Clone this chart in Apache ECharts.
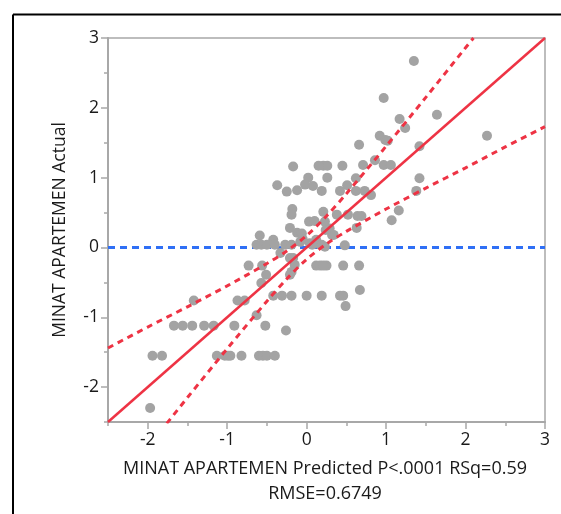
<!DOCTYPE html>
<html>
<head>
<meta charset="utf-8">
<script src="https://cdn.jsdelivr.net/npm/echarts@6/dist/echarts.min.js"></script>
<style>
html,body{margin:0;padding:0;background:#fff;}
#chart{width:561px;height:514px;}
</style>
</head>
<body>
<div id="chart"></div>
<script>
// Predicted (x) and Actual (y) values
var predictedX = [1.35,0.97,1.64,1.17,1.24,2.27,0.92,0.99,1.02,0.66,1.42,0.86,0.71,0.97,1.06,0.21,0.26,0.45,0.15,-0.17,
  0.26,0.62,1.42,0.02,0.51,-0.37,-0.02,0.08,0.19,0.42,0.62,0.73,0.81,1.38,-0.25,-0.12,0.21,0.38,0.52,0.64,
  0.69,1.16,1.07,0.63,-0.18,-0.19,0.03,0.10,0.23,-0.21,0.29,0.34,0.32,-0.12,-0.06,-0.59,-0.42,0.12,-0.08,0.04,
  0.24,0.23,-0.63,-0.57,-0.50,-0.40,-0.27,-0.19,0.17,0.19,0.48,-0.33,-0.21,-0.17,-0.15,-0.19,-0.21,0.12,0.17,0.25,
  0.21,0.46,0.66,-0.73,-0.56,-0.51,-0.57,-0.42,-0.31,-0.19,0.00,0.19,0.42,0.46,0.67,0.49,-0.87,-0.78,-1.42,-0.63,
  -0.52,-0.26,-1.67,-1.56,-1.44,-1.29,-1.17,-0.91,-1.94,-1.82,-1.13,-1.03,-0.99,-0.96,-0.82,-0.60,-0.55,-0.50,-0.40,-1.97,
  0.07,-0.05];
var actualY = [2.67,2.14,1.90,1.84,1.71,1.60,1.60,1.54,1.53,1.47,1.45,1.25,1.18,1.18,1.18,1.17,1.17,1.17,1.17,1.16,
  1.00,0.99,0.99,1.00,0.89,0.89,0.90,0.88,0.81,0.81,0.81,0.81,0.75,0.81,0.80,0.82,0.51,0.47,0.47,0.45,
  0.45,0.53,0.39,0.28,0.55,0.47,0.37,0.38,0.37,0.28,0.27,0.18,0.18,0.21,0.20,0.17,0.11,0.11,0.08,0.06,
  0.25,0.01,0.04,0.04,0.04,0.04,0.04,0.04,0.04,0.04,0.03,-0.08,-0.15,-0.15,-0.25,-0.35,-0.39,-0.26,-0.26,-0.26,
  -0.26,-0.26,-0.26,-0.26,-0.26,-0.39,-0.51,-0.69,-0.69,-0.69,-0.69,-0.69,-0.69,-0.69,-0.61,-0.84,-0.76,-0.76,-0.76,-0.97,
  -1.12,-1.19,-1.12,-1.12,-1.12,-1.12,-1.12,-1.12,-1.55,-1.55,-1.55,-1.55,-1.55,-1.55,-1.55,-1.55,-1.55,-1.55,-1.55,-2.30,
  0.04,0.12];

// Fit line and confidence curves
var fitX = [-2.5, 3];
var fitY = [-2.5, 3];
var upperCurveX = [-2.5,-2,-1.5,-1,-0.5,-0.25,0,0.25,0.5,1,1.5,2,2.1];
var upperCurveY = [-1.44,-1.14,-0.85,-0.55,-0.23,-0.05,0.17,0.45,0.77,1.45,2.15,2.86,3.0];
var lowerCurveX = [-1.76,-1.5,-1,-0.5,-0.25,0,0.25,0.5,1,1.5,2,2.5,3];
var lowerCurveY = [-2.52,-2.15,-1.45,-0.77,-0.45,-0.17,0.05,0.23,0.55,0.85,1.14,1.44,1.73];
var meanX = [-2.5, 3];
var meanY = [0, 0];

var majorTicks = [-2,-1,0,1,2,3];
var minorTicks = [-2.5,-1.5,-0.5,0.5,1.5,2.5];
var xTitle = 'MINAT APARTEMEN Predicted P<.0001 RSq=0.59\nRMSE=0.6749';
var yTitle = 'MINAT APARTEMEN Actual';

function zip(a, b) { return a.map(function (v, i) { return [v, b[i]]; }); }

var FONT = '"Open Sans", "Noto Sans", sans-serif';
var RED = '#ee3344';
var BLUE = '#2f6ff5';
var AXIS = '#a8a8a8';

function makeAxis(isMajor, extra) {
  var ax = {
    type: 'value', min: -2.5, max: 3, interval: 0.5,
    splitLine: {show: false},
    axisLine: {show: isMajor, onZero: false, lineStyle: {color: AXIS, width: 2}},
    axisTick: {show: true, customValues: isMajor ? majorTicks : minorTicks, length: isMajor ? 7 : 4,
      lineStyle: {color: AXIS, width: 1.5}},
    axisLabel: isMajor ? {show: true, customValues: majorTicks, color: '#1a1a1a', fontSize: 17.5,
      fontFamily: FONT, margin: 9} : {show: false}
  };
  for (var k in extra) ax[k] = extra[k];
  return ax;
}

var chart = echarts.init(document.getElementById('chart'), null, {renderer: 'canvas'});
chart.setOption({
  animation: false,
  backgroundColor: '#fff',
  grid: {left: 108, top: 38, right: 16, bottom: 92, show: true, borderColor: AXIS, borderWidth: 1.5},
  xAxis: [
    makeAxis(true, {position: 'bottom'}),
    makeAxis(false, {position: 'bottom'})
  ],
  yAxis: [
    makeAxis(true, {position: 'left'}),
    makeAxis(false, {position: 'left'})
  ],
  graphic: [
    {type: 'line', shape: {x1: 13, y1: 14.5, x2: 561, y2: 14.5}, style: {stroke: '#000', lineWidth: 2}},
    {type: 'line', shape: {x1: 13, y1: 14.5, x2: 13, y2: 514}, style: {stroke: '#000', lineWidth: 2}},
    {type: 'text', x: 325, y: 456, style: {text: xTitle, font: '18px ' + FONT, fill: '#1a1a1a',
      textAlign: 'center', lineHeight: 25}},
    {type: 'text', rotation: Math.PI / 2, x: 60, y: 230, style: {text: yTitle, font: '17.5px ' + FONT, fill: '#1a1a1a',
      textAlign: 'center', textVerticalAlign: 'middle'}}
  ],
  series: [
    {type: 'line', data: zip(meanX, meanY), symbol: 'none', z: 2,
      lineStyle: {color: BLUE, width: 3, type: [7, 5]}},
    {type: 'scatter', data: zip(predictedX, actualY), symbol: 'circle', symbolSize: 10, z: 3,
      itemStyle: {color: '#a3a3a3', opacity: 1}},
    {type: 'line', data: zip(fitX, fitY), symbol: 'none', z: 4,
      lineStyle: {color: RED, width: 2.5}},
    {type: 'line', data: zip(upperCurveX, upperCurveY), symbol: 'none', smooth: 0.3, z: 4,
      lineStyle: {color: RED, width: 3, type: [6, 5]}},
    {type: 'line', data: zip(lowerCurveX, lowerCurveY), symbol: 'none', smooth: 0.3, z: 4,
      lineStyle: {color: RED, width: 3, type: [6, 5]}}
  ]
});
</script>
</body>
</html>
